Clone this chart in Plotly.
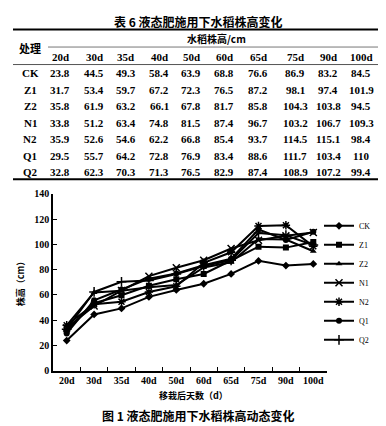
import plotly.graph_objects as go

days = ["20d", "30d", "35d", "40d", "50d", "60d", "65d", "75d", "90d", "100d"]
treatments = ["CK", "Z1", "Z2", "N1", "N2", "Q1", "Q2"]
CK = [23.8, 44.5, 49.3, 58.4, 63.9, 68.8, 76.6, 86.9, 83.2, 84.5]
Z1 = [31.7, 53.4, 59.7, 67.2, 72.3, 76.5, 87.2, 98.1, 97.4, 101.9]
Z2 = [35.8, 61.9, 63.2, 66.1, 67.8, 81.7, 85.8, 104.3, 103.8, 94.5]
N1 = [33.8, 51.2, 63.4, 74.8, 81.5, 87.4, 96.7, 103.2, 106.7, 109.3]
N2 = [35.9, 52.6, 54.6, 62.2, 66.8, 85.4, 93.7, 114.5, 115.1, 98.4]
Q1 = [29.5, 55.7, 64.2, 72.8, 76.9, 83.4, 88.6, 111.7, 103.4, 110]
Q2 = [32.8, 62.3, 70.3, 71.3, 76.5, 82.9, 87.4, 108.9, 107.2, 99.4]
series = [CK, Z1, Z2, N1, N2, Q1, Q2]
symbols = ["diamond", "square", "triangle-up", "x-thin-open", "asterisk-open", "circle", "cross-thin-open"]

W, H = 386, 426
def px(x):
    return x / W
def py(y):
    return (H - y) / H

serif = "Liberation Serif"
cjk = "Noto Sans CJK SC"

fig = go.Figure()
for name, vals, sym in zip(treatments, series, symbols):
    thin = sym.endswith("open")
    fig.add_trace(go.Scatter(
        x=days, y=vals, name=name, mode="lines+markers",
        line=dict(color="black", width=2),
        marker=dict(symbol=sym, size=6 if not thin else 7, color="black",
                    line=dict(color="black", width=1.5 if thin else 0)),
    ))

ann = []
shapes = []
ann.append(dict(x=px(190), y=py(8), text="<b>表 6 液态肥施用下水稻株高变化</b>",
                font=dict(family=cjk, size=12, color="black")))
ann.append(dict(x=px(22), y=py(35), text="<b>处理</b>", font=dict(family=cjk, size=11, color="black")))
ann.append(dict(x=px(208), y=py(25), text="<b>水稻株高/cm</b>", font=dict(family=cjk, size=10, color="black")))
col_x = [52, 86, 118, 151, 183, 216, 250, 287, 320, 353]
for d, cx in zip(days, col_x):
    ann.append(dict(x=px(cx), y=py(44), text="<b>%s</b>" % d, font=dict(family=serif, size=11, color="black")))
row_y = [61, 78, 95, 112, 129, 146, 163]
for name, vals, ry in zip(treatments, series, row_y):
    ann.append(dict(x=px(22), y=py(ry), text="<b>%s</b>" % name, font=dict(family=serif, size=11, color="black")))
    for v, cx in zip(vals, col_x):
        ann.append(dict(x=px(cx), y=py(ry), text="<b>%g</b>" % v, font=dict(family=serif, size=11, color="black")))
for a in ann:
    a.update(xref="paper", yref="paper", showarrow=False, xanchor="center", yanchor="middle")

def hline(x0, x1, y, w, c="black"):
    shapes.append(dict(type="line", xref="paper", yref="paper", x0=px(x0), x1=px(x1),
                       y0=py(y), y1=py(y), line=dict(color=c, width=w)))
hline(5, 372, 16, 2)
hline(40, 372, 34, 1, "#777")
hline(5, 372, 52, 1, "#555")
hline(5, 372, 170, 2)

extra = [
    dict(x=px(190), y=py(413), text="<b>图 1 液态肥施用下水稻株高动态变化</b>",
         font=dict(family=cjk, size=12, color="black")),
    dict(x=px(185), y=py(393), text="<b>移栽后天数（d）</b>",
         font=dict(family=cjk, size=9, color="black")),
    dict(x=px(12), y=py(276), text="<b>株高（cm）</b>", textangle=-90,
         font=dict(family=cjk, size=9, color="black")),
]
for a in extra:
    a.update(xref="paper", yref="paper", showarrow=False, xanchor="center", yanchor="middle")
ann.extend(extra)

fig.update_layout(
    width=W, height=H,
    margin=dict(l=0, r=0, t=0, b=0),
    paper_bgcolor="white", plot_bgcolor="white",
    showlegend=True,
    legend=dict(x=px(311), y=py(203), xanchor="left", yanchor="top",
                font=dict(family=serif, size=8, color="black"),
                itemwidth=30, tracegroupgap=0, bgcolor="rgba(0,0,0,0)"),
    xaxis=dict(domain=[px(45), px(319)], type="category", range=[-0.5, 9.5],
               showline=True, linecolor="black", linewidth=1.5,
               ticks="inside", tickson="boundaries", ticklen=4, tickcolor="black",
               tickangle=0,
               tickfont=dict(family=serif, size=10, color="black"),
               showgrid=False, zeroline=False),
    yaxis=dict(domain=[py(367), py(185)], range=[0, 140], dtick=20,
               showline=True, linecolor="black", linewidth=1.5,
               ticks="inside", ticklen=4, tickcolor="black",
               tickfont=dict(family=serif, size=10, color="black"),
               showgrid=False, zeroline=False),
    annotations=ann,
    shapes=shapes,
)
fig.update_xaxes(tickprefix="<b>", ticksuffix="</b>")
fig.update_yaxes(tickprefix="<b>", ticksuffix="</b>")
fig.write_html("out.html")
